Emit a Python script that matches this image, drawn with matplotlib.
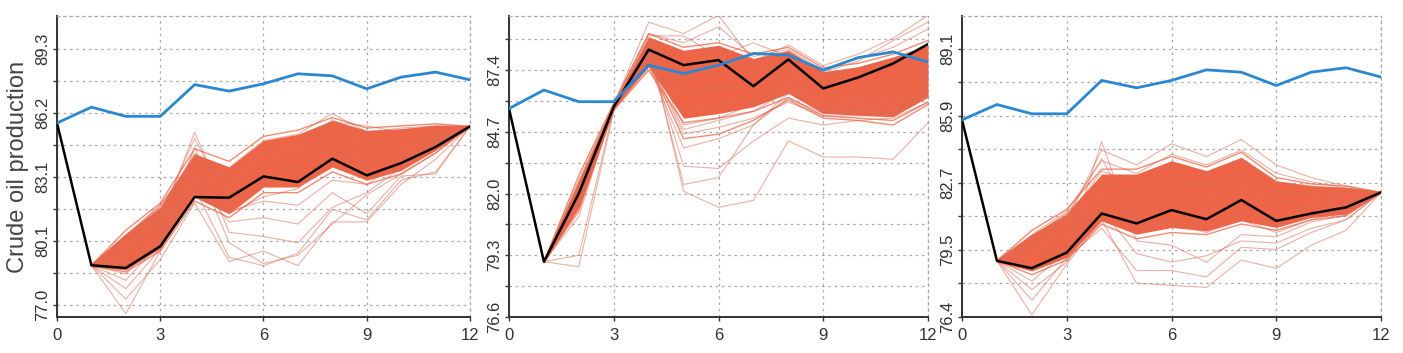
import matplotlib.pyplot as plt
import numpy as np

plt.rcParams['font.family'] = ['Liberation Sans', 'DejaVu Sans']

x = np.arange(13)
xs = np.arange(1, 13)

# blue reference line and black line, one per panel (x = 0..12)
blue1 = [85.74, 86.50, 86.06, 86.06, 87.58, 87.27, 87.62, 88.10, 88.00, 87.38, 87.94, 88.18, 87.81]
black1 = [85.74, 78.92, 78.79, 79.83, 82.19, 82.16, 83.18, 82.91, 84.03, 83.23, 83.82, 84.59, 85.58]
blue2 = [85.72, 86.53, 86.02, 86.02, 87.62, 87.25, 87.62, 88.13, 88.06, 87.40, 87.95, 88.20, 87.76]
black2 = [85.72, 79.02, 82.01, 85.80, 88.30, 87.62, 87.84, 86.70, 87.87, 86.60, 87.08, 87.69, 88.54]
blue3 = [85.73, 86.46, 86.02, 86.02, 87.60, 87.25, 87.60, 88.10, 87.99, 87.36, 87.99, 88.20, 87.76]
black3 = [85.73, 79.06, 78.71, 79.45, 81.30, 80.83, 81.46, 81.03, 81.94, 80.95, 81.30, 81.59, 82.30]

# dense core of the simulated runs (x = 1..12)
band1_lo = [78.85, 78.70, 79.72, 82.19, 81.39, 82.67, 82.67, 83.63, 83.00, 83.47, 84.43, 85.55]
band1_hi = [79.00, 80.43, 81.71, 84.27, 83.63, 84.90, 85.20, 85.87, 85.39, 85.47, 85.63, 85.62]
band2_lo = [78.95, 81.43, 85.70, 87.55, 85.30, 85.50, 85.80, 86.38, 85.51, 85.43, 85.36, 86.23]
band2_hi = [79.10, 82.59, 85.90, 88.86, 88.27, 88.49, 87.91, 88.27, 87.33, 87.55, 87.98, 88.49]
band3_lo = [79.00, 78.58, 79.22, 80.95, 80.32, 80.64, 80.48, 80.95, 80.64, 81.11, 81.27, 82.27]
band3_hi = [79.12, 80.32, 81.27, 83.17, 83.17, 83.80, 83.33, 83.96, 82.85, 82.62, 82.54, 82.33]

# single runs, faint (x = 1..12)
runs1 = [
    [78.92, 76.6, 79.6, 82.6, 79.3, 78.9, 79.5, 81.6, 81.1, 83.0, 83.4, 85.58],
    [78.92, 77.3, 79.2, 81.9, 79.1, 79.6, 78.9, 81.0, 81.0, 82.8, 84.0, 85.58],
    [78.92, 77.8, 79.7, 84.0, 80.0, 79.0, 79.4, 80.9, 82.3, 83.3, 84.3, 85.58],
    [78.92, 78.2, 80.0, 84.6, 80.5, 80.3, 80.0, 81.7, 82.4, 83.6, 84.6, 85.58],
    [78.92, 78.5, 80.3, 83.0, 81.0, 81.2, 80.9, 82.4, 81.4, 83.2, 83.3, 85.58],
    [78.92, 79.5, 81.0, 85.3, 81.5, 82.0, 81.8, 83.0, 82.8, 83.9, 84.8, 85.58],
    [78.92, 80.4, 81.7, 84.2, 83.6, 84.9, 85.2, 86.2, 85.3, 85.5, 85.6, 85.58],
    [78.92, 80.1, 81.5, 83.8, 83.2, 84.5, 84.8, 85.8, 85.6, 85.3, 85.5, 85.58],
    [78.92, 79.6, 81.2, 83.4, 82.6, 83.8, 84.2, 85.2, 84.8, 85.0, 85.2, 85.58],
    [78.92, 79.2, 80.7, 82.9, 82.0, 83.2, 83.6, 84.6, 84.2, 84.6, 85.0, 85.58],
    [78.92, 78.8, 80.2, 82.4, 81.6, 82.8, 83.0, 84.0, 83.5, 84.1, 84.7, 85.58],
    [78.92, 80.2, 81.6, 84.3, 82.9, 84.2, 84.5, 85.9, 85.1, 85.4, 85.6, 85.58],
    [78.92, 79.0, 80.0, 82.2, 81.4, 82.2, 82.6, 83.8, 83.0, 83.7, 84.5, 85.58],
    [78.92, 79.8, 81.3, 85.0, 81.8, 83.0, 82.8, 84.3, 83.8, 84.3, 84.9, 85.58],
]
runs2 = [
    [79.02, 81.0, 85.8, 88.6, 82.1, 81.4, 81.7, 84.3, 83.6, 83.6, 83.5, 85.1],
    [79.02, 78.8, 85.6, 88.2, 83.2, 83.1, 84.3, 85.3, 85.0, 85.2, 85.3, 86.0],
    [79.02, 79.3, 85.7, 88.4, 82.4, 82.7, 85.0, 86.2, 85.5, 85.6, 85.8, 86.4],
    [79.02, 82.2, 85.9, 89.5, 89.0, 89.8, 87.8, 88.5, 87.6, 88.1, 88.8, 89.8],
    [79.02, 82.5, 85.9, 89.0, 88.6, 89.3, 88.0, 88.3, 87.4, 87.9, 88.4, 89.2],
    [79.02, 82.4, 85.8, 88.8, 88.2, 88.4, 87.6, 88.1, 87.2, 87.5, 87.9, 88.4],
    [79.02, 82.2, 85.8, 88.6, 87.6, 88.0, 87.2, 87.8, 86.8, 87.1, 87.5, 88.0],
    [79.02, 82.0, 85.8, 88.4, 87.0, 87.3, 86.8, 87.5, 86.4, 86.6, 87.0, 87.6],
    [79.02, 81.8, 85.8, 88.2, 86.3, 86.6, 86.4, 87.2, 86.0, 86.2, 86.6, 87.2],
    [79.02, 81.6, 85.7, 88.0, 85.5, 85.9, 86.0, 86.9, 85.7, 85.8, 86.0, 86.6],
    [79.02, 81.5, 85.7, 87.8, 84.8, 85.2, 85.6, 86.5, 85.5, 85.5, 85.6, 86.3],
    [79.02, 81.2, 85.7, 87.6, 84.0, 84.4, 85.0, 86.4, 85.6, 85.7, 85.5, 86.5],
    [79.02, 82.6, 85.9, 88.9, 88.9, 88.0, 88.6, 88.0, 87.3, 87.8, 88.7, 89.5],
    [79.02, 81.9, 85.8, 87.9, 84.6, 84.9, 85.3, 86.0, 85.4, 85.4, 85.4, 86.2],
    [79.02, 81.7, 85.8, 88.1, 85.0, 85.3, 85.9, 86.7, 85.8, 86.0, 86.2, 86.9],
]
runs3 = [
    [79.06, 76.5, 78.9, 81.0, 78.0, 77.9, 77.8, 79.1, 78.7, 79.8, 80.5, 82.3],
    [79.06, 77.2, 79.2, 80.6, 78.6, 78.6, 78.3, 79.7, 79.6, 80.4, 81.0, 82.3],
    [79.06, 77.7, 79.0, 81.5, 79.4, 79.0, 79.3, 80.0, 79.9, 80.6, 81.0, 82.3],
    [79.06, 78.1, 79.5, 84.7, 80.0, 79.8, 79.0, 80.3, 80.2, 80.9, 81.2, 82.3],
    [79.06, 79.8, 81.0, 84.3, 83.6, 84.6, 84.0, 84.8, 83.6, 83.0, 82.6, 82.3],
    [79.06, 80.3, 81.4, 83.8, 83.2, 84.1, 83.6, 84.3, 83.2, 82.8, 82.5, 82.3],
    [79.06, 80.0, 81.1, 83.3, 82.8, 83.5, 83.2, 83.8, 82.8, 82.6, 82.5, 82.3],
    [79.06, 79.6, 80.7, 82.8, 82.2, 82.9, 82.6, 83.2, 82.3, 82.3, 82.3, 82.3],
    [79.06, 79.3, 80.3, 82.3, 81.7, 82.3, 82.0, 82.7, 81.8, 81.9, 82.0, 82.3],
    [79.06, 78.9, 79.9, 81.8, 81.2, 81.8, 81.5, 82.2, 81.3, 81.6, 81.8, 82.3],
    [79.06, 78.6, 79.6, 81.5, 80.5, 81.0, 80.7, 81.4, 80.7, 81.2, 81.5, 82.3],
    [79.06, 80.1, 81.2, 83.9, 81.0, 80.8, 80.4, 81.0, 80.4, 81.0, 81.4, 82.3],
]

# single runs near the edges of the dense core (x = 1..12)
edge1 = [
    [78.92, 80.6, 81.9, 84.5, 83.9, 85.1, 85.4, 86.0, 85.5, 85.6, 85.7, 85.58],
    [78.92, 80.3, 81.8, 84.0, 83.4, 84.7, 85.0, 85.6, 85.2, 85.3, 85.5, 85.58],
    [78.92, 78.6, 79.6, 82.0, 81.2, 82.4, 82.4, 83.4, 82.8, 83.3, 84.3, 85.58],
    [78.92, 78.9, 79.9, 82.5, 81.6, 82.9, 82.9, 83.9, 83.2, 83.6, 84.5, 85.58],
    [78.92, 79.4, 80.9, 83.6, 82.4, 83.6, 84.0, 84.8, 84.3, 84.7, 85.1, 85.58],
]
edge2 = [
    [79.02, 82.8, 85.95, 89.0, 88.4, 88.6, 88.1, 88.4, 87.5, 87.7, 88.1, 88.7],
    [79.02, 81.3, 85.65, 87.4, 85.1, 85.3, 85.6, 86.2, 85.4, 85.3, 85.2, 86.0],
    [79.02, 81.9, 85.8, 88.3, 86.7, 87.0, 86.6, 87.3, 86.2, 86.4, 86.8, 87.4],
    [79.02, 82.3, 85.85, 88.7, 87.9, 88.2, 87.4, 88.0, 87.0, 87.3, 87.7, 88.2],
    [79.02, 81.4, 85.7, 87.7, 84.4, 84.6, 85.2, 86.1, 85.3, 85.2, 85.0, 85.9],
]
edge3 = [
    [79.06, 80.5, 81.5, 83.4, 83.4, 84.0, 83.5, 84.2, 83.0, 82.7, 82.6, 82.3],
    [79.06, 78.4, 79.1, 80.8, 80.1, 80.4, 80.3, 80.8, 80.5, 81.0, 81.2, 82.3],
    [79.06, 79.5, 80.5, 82.5, 81.9, 82.6, 82.3, 83.0, 82.0, 82.1, 82.1, 82.3],
    [79.06, 80.2, 81.3, 83.0, 82.9, 83.6, 83.1, 83.7, 82.6, 82.5, 82.4, 82.3],
    [79.06, 78.8, 79.4, 81.2, 80.6, 81.2, 80.9, 81.6, 80.9, 81.3, 81.6, 82.3],
]

ytick_labels1 = ['77.0', '', '80.1', '', '83.1', '', '86.2', '', '89.3']
ytick_labels2 = ['76.6', '', '79.3', '', '82.0', '', '84.7', '', '87.4', '']
ytick_labels3 = ['76.4', '', '79.5', '', '82.7', '', '85.9', '', '89.1']

panels = [
    dict(blue=blue1, black=black1, lo=band1_lo, hi=band1_hi, runs=runs1, edge=edge1,
         yt=np.linspace(77.0, 89.3, 9), ytl=ytick_labels1, ylim=(76.44, 90.87), left=57),
    dict(blue=blue2, black=black2, lo=band2_lo, hi=band2_hi, runs=runs2, edge=edge2,
         yt=np.linspace(76.6, 88.75, 10), ytl=ytick_labels2, ylim=(76.6, 89.77), left=509),
    dict(blue=blue3, black=black3, lo=band3_lo, hi=band3_hi, runs=runs3, edge=edge3,
         yt=np.linspace(76.4, 89.1, 9), ytl=ytick_labels3, ylim=(76.4, 90.65), left=962),
]

W, H = 1403, 353
fig = plt.figure(figsize=(W / 100, H / 100), dpi=100)
widths = [413, 419, 419]

for i, p in enumerate(panels):
    ax = fig.add_axes([p['left'] / W, (H - 317) / H, widths[i] / W, 301 / H])
    ax.fill_between(xs, p['lo'], p['hi'], color='#EE6446', lw=0, zorder=1)
    for r in p['runs']:
        ax.plot(xs, r, color='#D8705E', alpha=0.55, lw=0.8, zorder=2)
    for r in p['edge']:
        ax.plot(xs, r, color='#EE6446', alpha=0.75, lw=1.0, zorder=2)
    ax.plot(x, p['black'], color='black', lw=1.8, zorder=4)
    ax.plot(x, p['blue'], color='#2B87D1', lw=2.0, zorder=5)

    ax.set_xlim(0, 12)
    ax.set_ylim(*p['ylim'])
    ax.set_xticks([0, 3, 6, 9, 12])
    ax.set_yticks(p['yt'])
    ax.set_yticklabels(p['ytl'], rotation=90, va='center')
    ax.grid(True, color='#a8a8a8', ls=(0, (2, 3)), lw=0.9)
    ax.set_axisbelow(True)
    for s in ['left', 'bottom']:
        ax.spines[s].set_color('#333333')
        ax.spines[s].set_linewidth(1.4)
    for s in ['top', 'right']:
        ax.spines[s].set_color('#a8a8a8')
        ax.spines[s].set_linestyle((0, (2, 3)))
        ax.spines[s].set_linewidth(0.9)
    ax.tick_params(axis='both', labelsize=12, colors='#333333', length=3, width=1)
    ax.tick_params(axis='y', pad=2)
    ax.tick_params(axis='x', pad=5)
    if i == 0:
        ax.set_ylabel('Crude oil production', fontsize=17, color='#444444', labelpad=4)

fig.savefig('out.png', dpi=100)
